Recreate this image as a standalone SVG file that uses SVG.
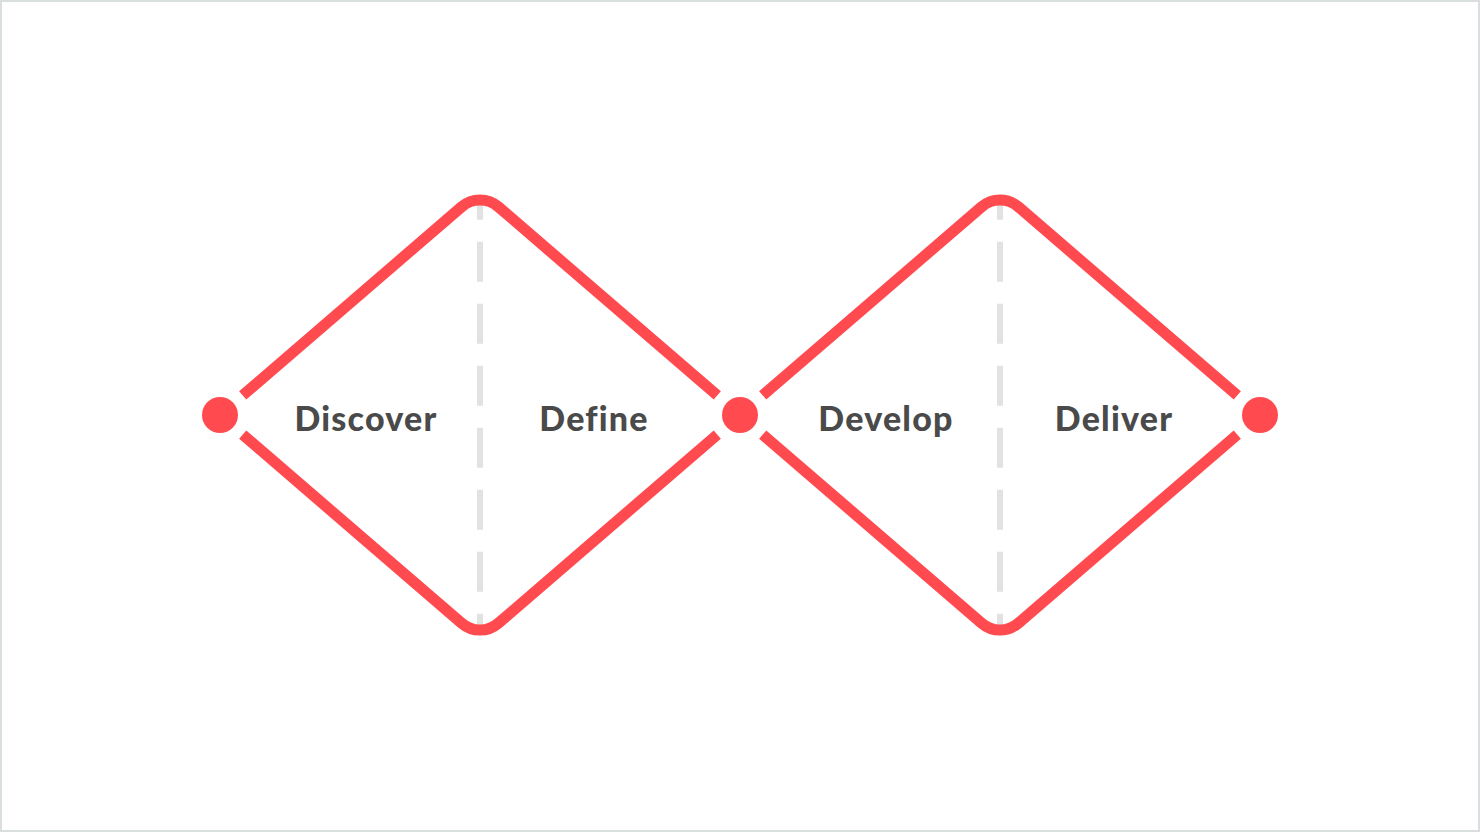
<svg xmlns="http://www.w3.org/2000/svg" width="1480" height="832" viewBox="0 0 1480 832">
  <style>
    .edge { fill: none; stroke: #ff4a50; stroke-width: 11; stroke-linecap: butt; stroke-linejoin: round; }
    .divider { stroke: #e2e2e2; stroke-width: 6; stroke-dasharray: 40 22; stroke-dashoffset: 20.3; }
    .node { fill: #ff4a50; }
    .label { font-family: "Lato", "Liberation Sans", sans-serif; font-weight: 900; font-size: 34px; fill: #4a4a4a; text-anchor: middle; letter-spacing: 1.2px; }
  </style>
  <rect x="1" y="1" width="1478" height="830" fill="#ffffff" stroke="#d9dede" stroke-width="2"/>
  <g id="dividers">
    <line class="divider" x1="480" y1="200" x2="480" y2="630"/>
    <line class="divider" x1="1000" y1="200" x2="1000" y2="630"/>
  </g>
  <g id="connectors">
    <path class="edge" d="M 242.7 395.4 L 461.7 206.76 A 28 28 0 0 1 498.3 206.76 L 717.3 395.4"/>
    <path class="edge" d="M 242.7 434.6 L 461.7 623.24 A 28 28 0 0 0 498.3 623.24 L 717.3 434.6"/>
    <path class="edge" d="M 762.7 395.4 L 981.7 206.76 A 28 28 0 0 1 1018.3 206.76 L 1237.3 395.4"/>
    <path class="edge" d="M 762.7 434.6 L 981.7 623.24 A 28 28 0 0 0 1018.3 623.24 L 1237.3 434.6"/>
  </g>
  <g id="node-start"><circle class="node" cx="220" cy="415" r="18"/></g>
  <g id="node-mid"><circle class="node" cx="740" cy="415" r="18"/></g>
  <g id="node-end"><circle class="node" cx="1260" cy="415" r="18"/></g>
  <g id="label-discover"><text class="label" x="366" y="431">Discover</text></g>
  <g id="label-define"><text class="label" x="594" y="431">Define</text></g>
  <g id="label-develop"><text class="label" x="886" y="431">Develop</text></g>
  <g id="label-deliver"><text class="label" x="1114" y="431">Deliver</text></g>
</svg>
